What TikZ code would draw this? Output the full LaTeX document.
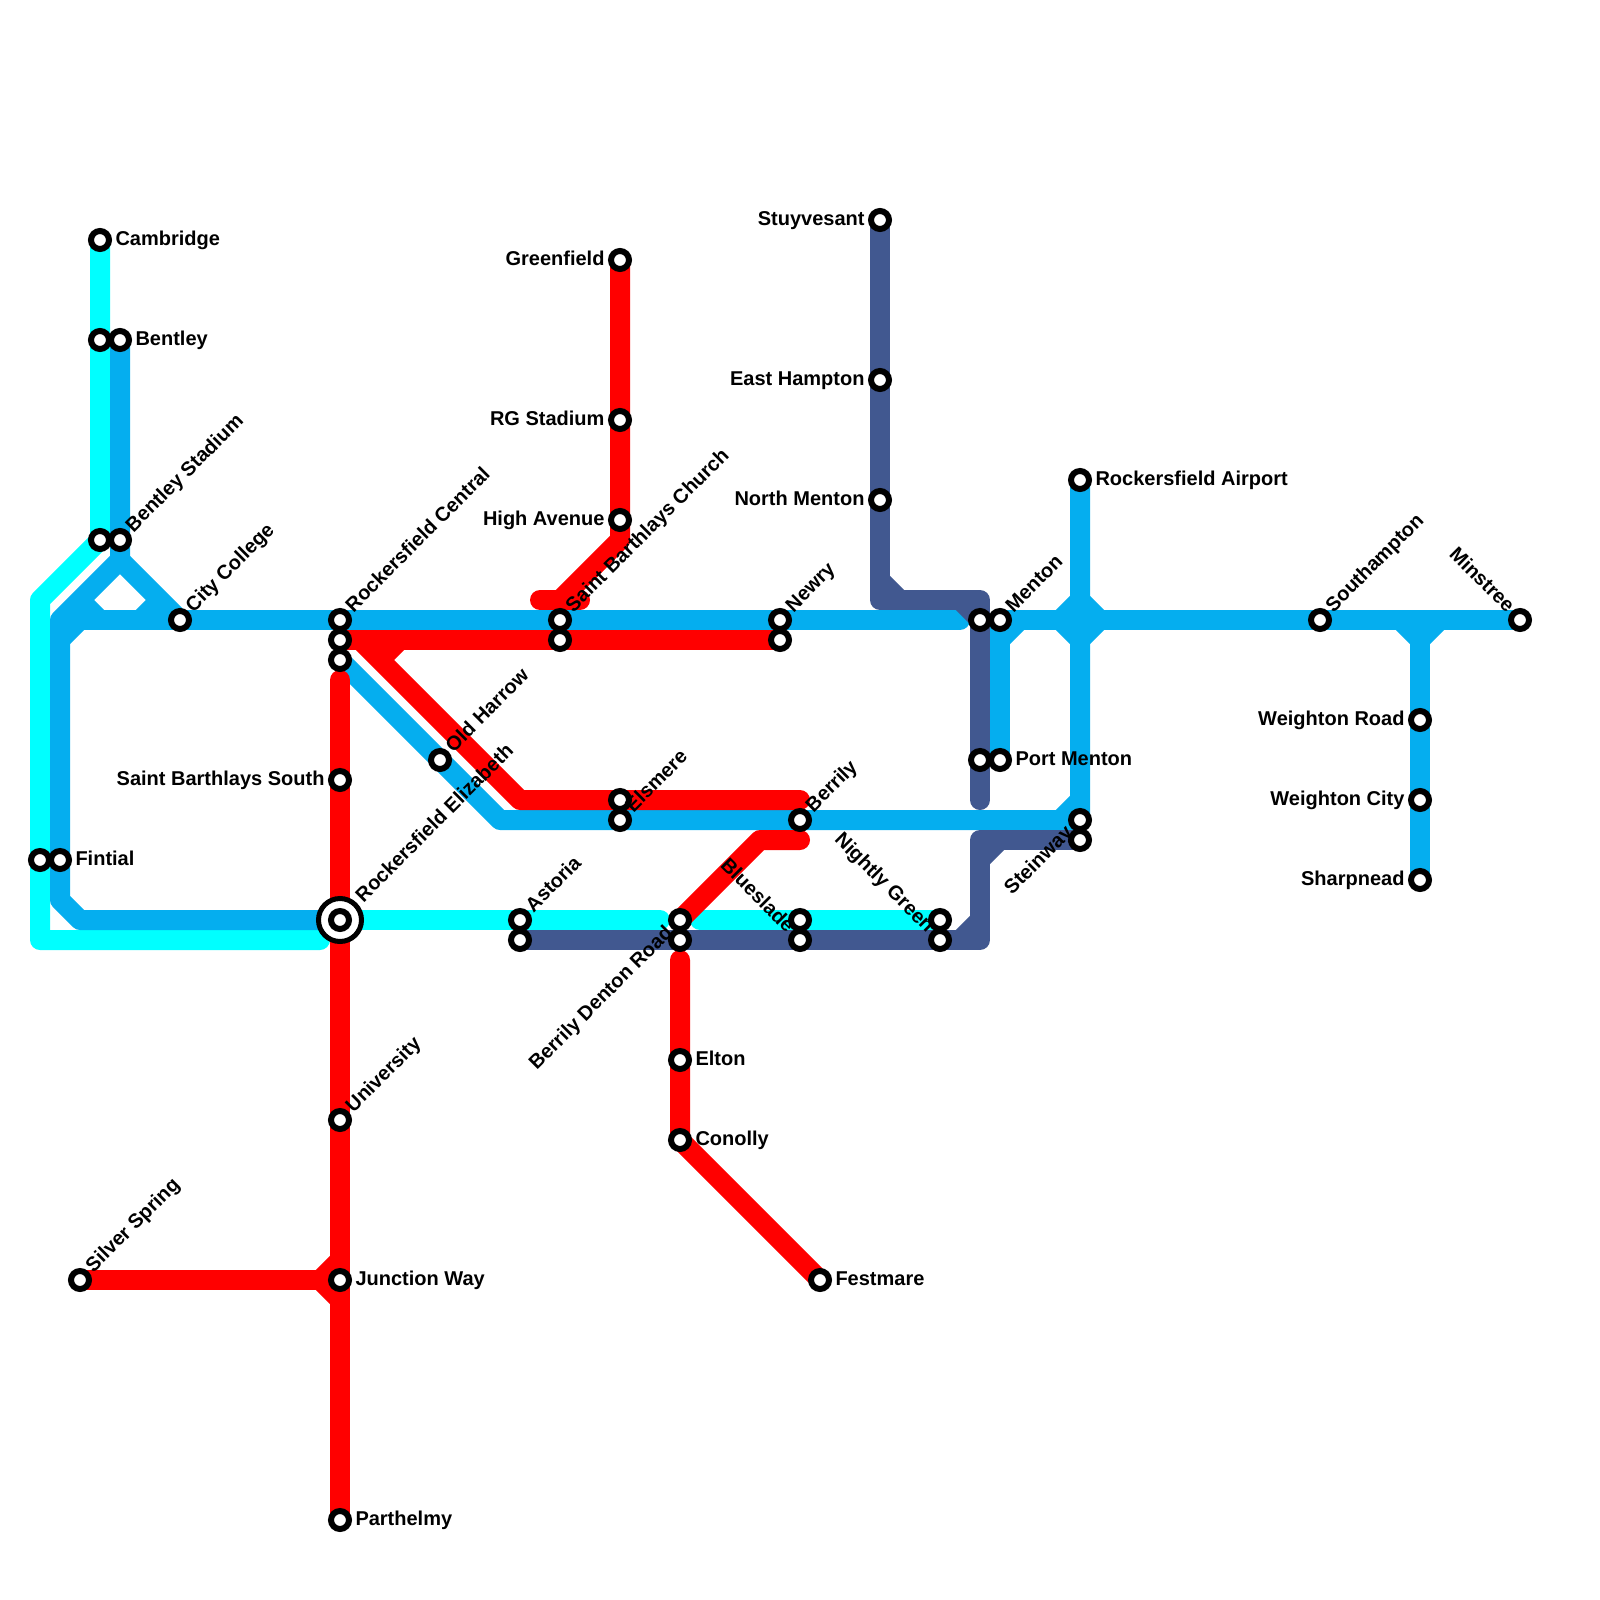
\documentclass[tikz,border=0pt]{standalone}
\usepackage{fontspec}
\setmainfont{Liberation Sans}
\pgfdeclarelayer{lines}
\pgfsetlayers{lines,main}
\definecolor{lcyan}{HTML}{00FFFF}
\definecolor{lblue}{HTML}{05AEEF}
\definecolor{lred}{HTML}{FF0000}
\definecolor{lnavy}{HTML}{415890}
\tikzset{
  route/.style={line width=20pt,line join=round,line cap=round},
  butt/.style={line cap=butt},
  stn/.style={circle,draw=black,fill=white,line width=6pt,minimum size=18pt,inner sep=0pt,outer sep=0pt},
  hub/.style={circle,draw=black,fill=white,line width=5pt,minimum size=43pt,inner sep=0pt,outer sep=0pt},
  lbl/.style={font=\fontsize{20}{21}\selectfont\bfseries,inner sep=0pt,outer sep=0pt,text height=14pt,text depth=4pt,text=black},
  lr/.style={lbl,anchor=west},
  ll/.style={lbl,anchor=east},
  lup/.style={lbl,anchor=west,rotate=45},
  lupend/.style={lbl,anchor=east,rotate=45},
  ldnend/.style={lbl,anchor=east,rotate=-45},
}
\newcommand{\Stn}[3]{\node[stn] (#1) at (#2,#3) {};}
\begin{document}
\begin{tikzpicture}[x=1pt,y=-1pt]
\useasboundingbox (0,0) rectangle (1600,1600);
% stations
\Stn{cambridge}{100}{240}
\Stn{cambB}{100}{340}
\Stn{bentley}{120}{340}
\Stn{cambC}{100}{540}
\Stn{bstadium}{120}{540}
\Stn{citycollege}{180}{620}
\Stn{rcentral}{340}{620}
\Stn{rcentralB}{340}{640}
\Stn{rcentralC}{340}{660}
\Stn{fintialB}{40}{860}
\Stn{fintial}{60}{860}
\node[hub] (relizO) at (340,920) {};
\Stn{reliz}{340}{920}
\Stn{silver}{80}{1280}
\Stn{junction}{340}{1280}
\Stn{university}{340}{1120}
\Stn{parthelmy}{340}{1520}
\Stn{sbsouth}{340}{780}
\Stn{oldharrow}{440}{760}
\Stn{greenfield}{620}{260}
\Stn{rgstadium}{620}{420}
\Stn{highave}{620}{520}
\Stn{sbchurch}{560}{620}
\Stn{sbchurchB}{560}{640}
\Stn{newry}{780}{620}
\Stn{newryB}{780}{640}
\Stn{elsmere}{620}{800}
\Stn{elsmereB}{620}{820}
\Stn{berrily}{800}{820}
\Stn{astoria}{520}{920}
\Stn{astoriaB}{520}{940}
\Stn{bdenton}{680}{920}
\Stn{bdentonB}{680}{940}
\Stn{bluesladeA}{800}{920}
\Stn{blueslade}{800}{940}
\Stn{nightlyA}{940}{920}
\Stn{nightly}{940}{940}
\Stn{elton}{680}{1060}
\Stn{conolly}{680}{1140}
\Stn{festmare}{820}{1280}
\Stn{stuyvesant}{880}{220}
\Stn{easthampton}{880}{380}
\Stn{northmenton}{880}{500}
\Stn{mentonB}{980}{620}
\Stn{menton}{1000}{620}
\Stn{portmentonB}{980}{760}
\Stn{portmenton}{1000}{760}
\Stn{airport}{1080}{480}
\Stn{steinway}{1080}{820}
\Stn{steinwayB}{1080}{840}
\Stn{southampton}{1320}{620}
\Stn{minstree}{1520}{620}
\Stn{wroad}{1420}{720}
\Stn{wcity}{1420}{800}
\Stn{sharpnead}{1420}{880}
% bends and stub ends
\coordinate (c1) at (40,600);
\coordinate (c2) at (40,940);
\coordinate (c3) at (320,940);
\coordinate (c4) at (660,920);
\coordinate (c5) at (700,920);
\coordinate (b1) at (120,560);
\coordinate (b2) at (60,620);
\coordinate (b3) at (60,900);
\coordinate (b4) at (80,920);
\coordinate (b5) at (320,920);
\coordinate (b6) at (60,640);
\coordinate (b7) at (80,620);
\coordinate (b8) at (960,620);
\coordinate (b9) at (80,600);
\coordinate (b10) at (100,620);
\coordinate (b11) at (140,620);
\coordinate (b12) at (160,600);
\coordinate (b13) at (500,820);
\coordinate (b14) at (1060,820);
\coordinate (b15) at (1080,800);
\coordinate (b16) at (1000,640);
\coordinate (b17) at (1020,620);
\coordinate (b18) at (1060,620);
\coordinate (b19) at (1080,600);
\coordinate (b20) at (1100,620);
\coordinate (b21) at (1080,640);
\coordinate (b22) at (1400,620);
\coordinate (b23) at (1420,640);
\coordinate (b24) at (1440,620);
\coordinate (b25) at (1420,620);
\coordinate (r1) at (340,680);
\coordinate (r2) at (320,1280);
\coordinate (r3) at (340,1260);
\coordinate (r4) at (340,1300);
\coordinate (r5) at (360,640);
\coordinate (r6) at (520,800);
\coordinate (r7) at (800,800);
\coordinate (r8) at (380,660);
\coordinate (r9) at (400,640);
\coordinate (r10) at (620,540);
\coordinate (r11) at (560,600);
\coordinate (r12) at (540,600);
\coordinate (r13) at (580,600);
\coordinate (r14) at (760,840);
\coordinate (r15) at (800,840);
\coordinate (r16) at (680,960);
\coordinate (n1) at (880,600);
\coordinate (n2) at (980,600);
\coordinate (n3) at (980,800);
\coordinate (n4) at (880,580);
\coordinate (n5) at (900,600);
\coordinate (n6) at (960,600);
\coordinate (n7) at (980,620);
\coordinate (n8) at (980,940);
\coordinate (n9) at (980,840);
\coordinate (n10) at (960,940);
\coordinate (n11) at (980,920);
\coordinate (n12) at (980,860);
\coordinate (n13) at (1000,840);
\begin{pgfonlayer}{lines}
% cyan
\draw[route,lcyan] (cambridge.center) -- (cambC.center) -- (c1) -- (c2) -- (c3);
\draw[route,lcyan] (relizO.center) -- (c4);
\draw[route,lcyan] (c5) -- (nightlyA.center);
% blue
\draw[route,lblue] (bentley.center) -- (b1) -- (b2) -- (b3) -- (b4) -- (b5);
\draw[route,lblue] (b1) -- (citycollege.center);
\draw[route,lblue,butt] (b6) -- (b7);
\draw[route,lblue] (b7) -- (b8);
\draw[route,lblue,butt] (b9) -- (b10);
\draw[route,lblue,butt] (b11) -- (b12);
\draw[route,lblue] (rcentralC.center) -- (b13) -- (steinway.center) -- (airport.center);
\draw[route,lblue,butt] (b14) -- (b15);
\draw[route,lblue] (portmenton.center) -- (menton.center) -- (minstree.center);
\draw[route,lblue,butt] (b16) -- (b17);
\fill[lblue] (b18) -- (b19) -- (b20) -- (b21) -- cycle;
\draw[route,lblue,butt] (b18) -- (b19);
\draw[route,lblue,butt] (b19) -- (b20);
\draw[route,lblue,butt] (b20) -- (b21);
\draw[route,lblue,butt] (b21) -- (b18);
\draw[route,lblue,butt] (b22) -- (b23);
\draw[route,lblue,butt] (b24) -- (b23);
\draw[route,lblue] (b25) -- (sharpnead.center);
% red
\draw[route,lred] (r1) -- (parthelmy.center);
\draw[route,lred] (silver.center) -- (junction.center);
\draw[route,lred,butt] (r2) -- (r3);
\draw[route,lred,butt] (r2) -- (r4);
\draw[route,lred] (rcentralB.center) -- (newryB.center);
\draw[route,lred] (r5) -- (r6) -- (r7);
\draw[route,lred,butt] (r8) -- (r9);
\draw[route,lred] (greenfield.center) -- (r10) -- (r11);
\draw[route,lred] (r12) -- (r13);
\draw[route,lred] (bdenton.center) -- (r14) -- (r15);
\draw[route,lred] (r16) -- (conolly.center) -- (festmare.center);
% navy
\draw[route,lnavy] (stuyvesant.center) -- (n1) -- (n2) -- (n3);
\draw[route,lnavy,butt] (n4) -- (n5);
\draw[route,lnavy,butt] (n6) -- (n7);
\draw[route,lnavy] (astoriaB.center) -- (n8) -- (n9) -- (steinwayB.center);
\draw[route,lnavy,butt] (n10) -- (n11);
\draw[route,lnavy,butt] (n12) -- (n13);
\end{pgfonlayer}
% labels
\node[lr] (t1) at ([shift={(15.5,0)}]cambridge.center) {Cambridge};
\node[lr] (t2) at ([shift={(15.5,0)}]bentley.center) {Bentley};
\node[lr] (t3) at ([shift={(15.5,0)}]fintial.center) {Fintial};
\node[lr] (t4) at ([shift={(15.5,0)}]junction.center) {Junction Way};
\node[lr] (t5) at ([shift={(15.5,0)}]parthelmy.center) {Parthelmy};
\node[lr] (t6) at ([shift={(15.5,0)}]elton.center) {Elton};
\node[lr] (t7) at ([shift={(15.5,0)}]conolly.center) {Conolly};
\node[lr] (t8) at ([shift={(15.5,0)}]festmare.center) {Festmare};
\node[lr] (t9) at ([shift={(15.5,0)}]portmenton.center) {Port Menton};
\node[lr] (t10) at ([shift={(15.5,0)}]airport.center) {Rockersfield Airport};
\node[ll] (t11) at ([shift={(-15.5,0)}]sbsouth.center) {Saint Barthlays South};
\node[ll] (t12) at ([shift={(-15.5,0)}]greenfield.center) {Greenfield};
\node[ll] (t13) at ([shift={(-15.5,0)}]rgstadium.center) {RG Stadium};
\node[ll] (t14) at ([shift={(-15.5,0)}]highave.center) {High Avenue};
\node[ll] (t15) at ([shift={(-15.5,0)}]stuyvesant.center) {Stuyvesant};
\node[ll] (t16) at ([shift={(-15.5,0)}]easthampton.center) {East Hampton};
\node[ll] (t17) at ([shift={(-15.5,0)}]northmenton.center) {North Menton};
\node[ll] (t18) at ([shift={(-15.5,0)}]wroad.center) {Weighton Road};
\node[ll] (t19) at ([shift={(-15.5,0)}]wcity.center) {Weighton City};
\node[ll] (t20) at ([shift={(-15.5,0)}]sharpnead.center) {Sharpnead};
\node[lup] (t21) at ([shift={(10,-10.5)}]bstadium.center) {Bentley Stadium};
\node[lup] (t22) at ([shift={(10,-10.5)}]citycollege.center) {City College};
\node[lup] (t23) at ([shift={(10,-10.5)}]rcentral.center) {Rockersfield Central};
\node[lup] (t24) at ([shift={(10,-10.5)}]silver.center) {Silver Spring};
\node[lup] (t25) at ([shift={(20,-20.5)}]reliz.center) {Rockersfield Elizabeth};
\node[lup] (t26) at ([shift={(10,-10.5)}]university.center) {University};
\node[lup] (t27) at ([shift={(10,-10.5)}]oldharrow.center) {Old Harrow};
\node[lup] (t28) at ([shift={(10,-10.5)}]astoria.center) {Astoria};
\node[lup] (t29) at ([shift={(10,-10.5)}]sbchurch.center) {Saint Barthlays Church};
\node[lup] (t30) at ([shift={(10,-10.5)}]elsmereB.center) {Elsmere};
\node[lup] (t31) at ([shift={(10,-10.5)}]newry.center) {Newry};
\node[lup] (t32) at ([shift={(10,-10.5)}]berrily.center) {Berrily};
\node[lup] (t33) at ([shift={(10,-10.5)}]menton.center) {Menton};
\node[lup] (t34) at ([shift={(10,-10.5)}]southampton.center) {Southampton};
\node[ldnend] (t35) at ([shift={(-10,-10)}]blueslade.center) {Blueslade};
\node[ldnend] (t36) at ([shift={(-10,-10)}]nightly.center) {Nightly Green};
\node[ldnend] (t37) at ([shift={(-10,-10)}]minstree.center) {Minstree};
\node[lupend] (t38) at ([shift={(-10,10.5)}]bdenton.center) {Berrily Denton Road};
\node[lupend] (t39) at ([shift={(-10,10.5)}]steinway.center) {Steinway};
\end{tikzpicture}
\end{document}
